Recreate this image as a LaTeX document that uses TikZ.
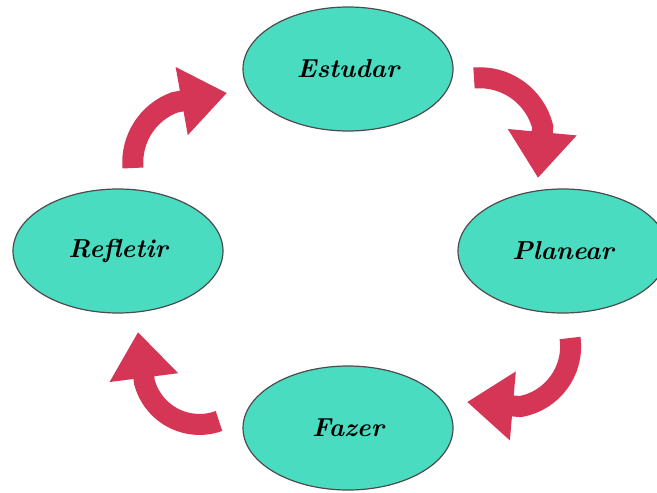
\documentclass[tikz,border=0pt]{standalone}
\usetikzlibrary{arrows.meta,shapes.geometric}
\definecolor{phasefill}{RGB}{74,220,192}
\definecolor{cyclered}{RGB}{214,54,86}
\begin{document}
\begin{tikzpicture}[x=0.5pt, y=-0.5pt,
    phase/.style={ellipse, draw=black!70, line width=0.6pt,
      fill=phasefill, minimum width=105pt, minimum height=62pt,
      font=\fontsize{13}{15}\selectfont\bfseries\itshape},
    cyc/.style={draw=cyclered, line width=10.5pt,
      -{Triangle[width=33pt, length=23pt]}}]
    \useasboundingbox (0,0) rectangle (657,492);
    \begin{scope}[every node/.style={phase}]
      \node (estudar) at (348, 69) {Estudar}; \node (planear) at
      (563, 251) {Planear}; \node (fazer) at (348, 428) {Fazer};
      \node (refletir) at (118, 251) {Refletir};
    \end{scope}
    % tails and tips of the arrows between the phases
    \coordinate (t1) at (474, 78); \coordinate (h1) at (538, 178);
    \coordinate (t2) at (570, 338); \coordinate (h2) at (467, 402);
    \coordinate (t3) at (219, 421); \coordinate (h3) at (138, 332);
    \coordinate (t4) at (133, 168); \coordinate (h4) at (227, 93);
    \begin{scope}[every path/.style={cyc}]
      \draw (t1) arc[start angle=-95, end angle=-14, radius=65] -- (h1);
      \draw (t2) arc[start angle=-8, end angle=80, radius=61] -- (h2);
      \draw (t3) arc[start angle=70, end angle=165, radius=57] -- (h3);
      \draw (t4) arc[start angle=175, end angle=250, radius=64] -- (h4);
    \end{scope}
  \end{tikzpicture}
\end{document}
